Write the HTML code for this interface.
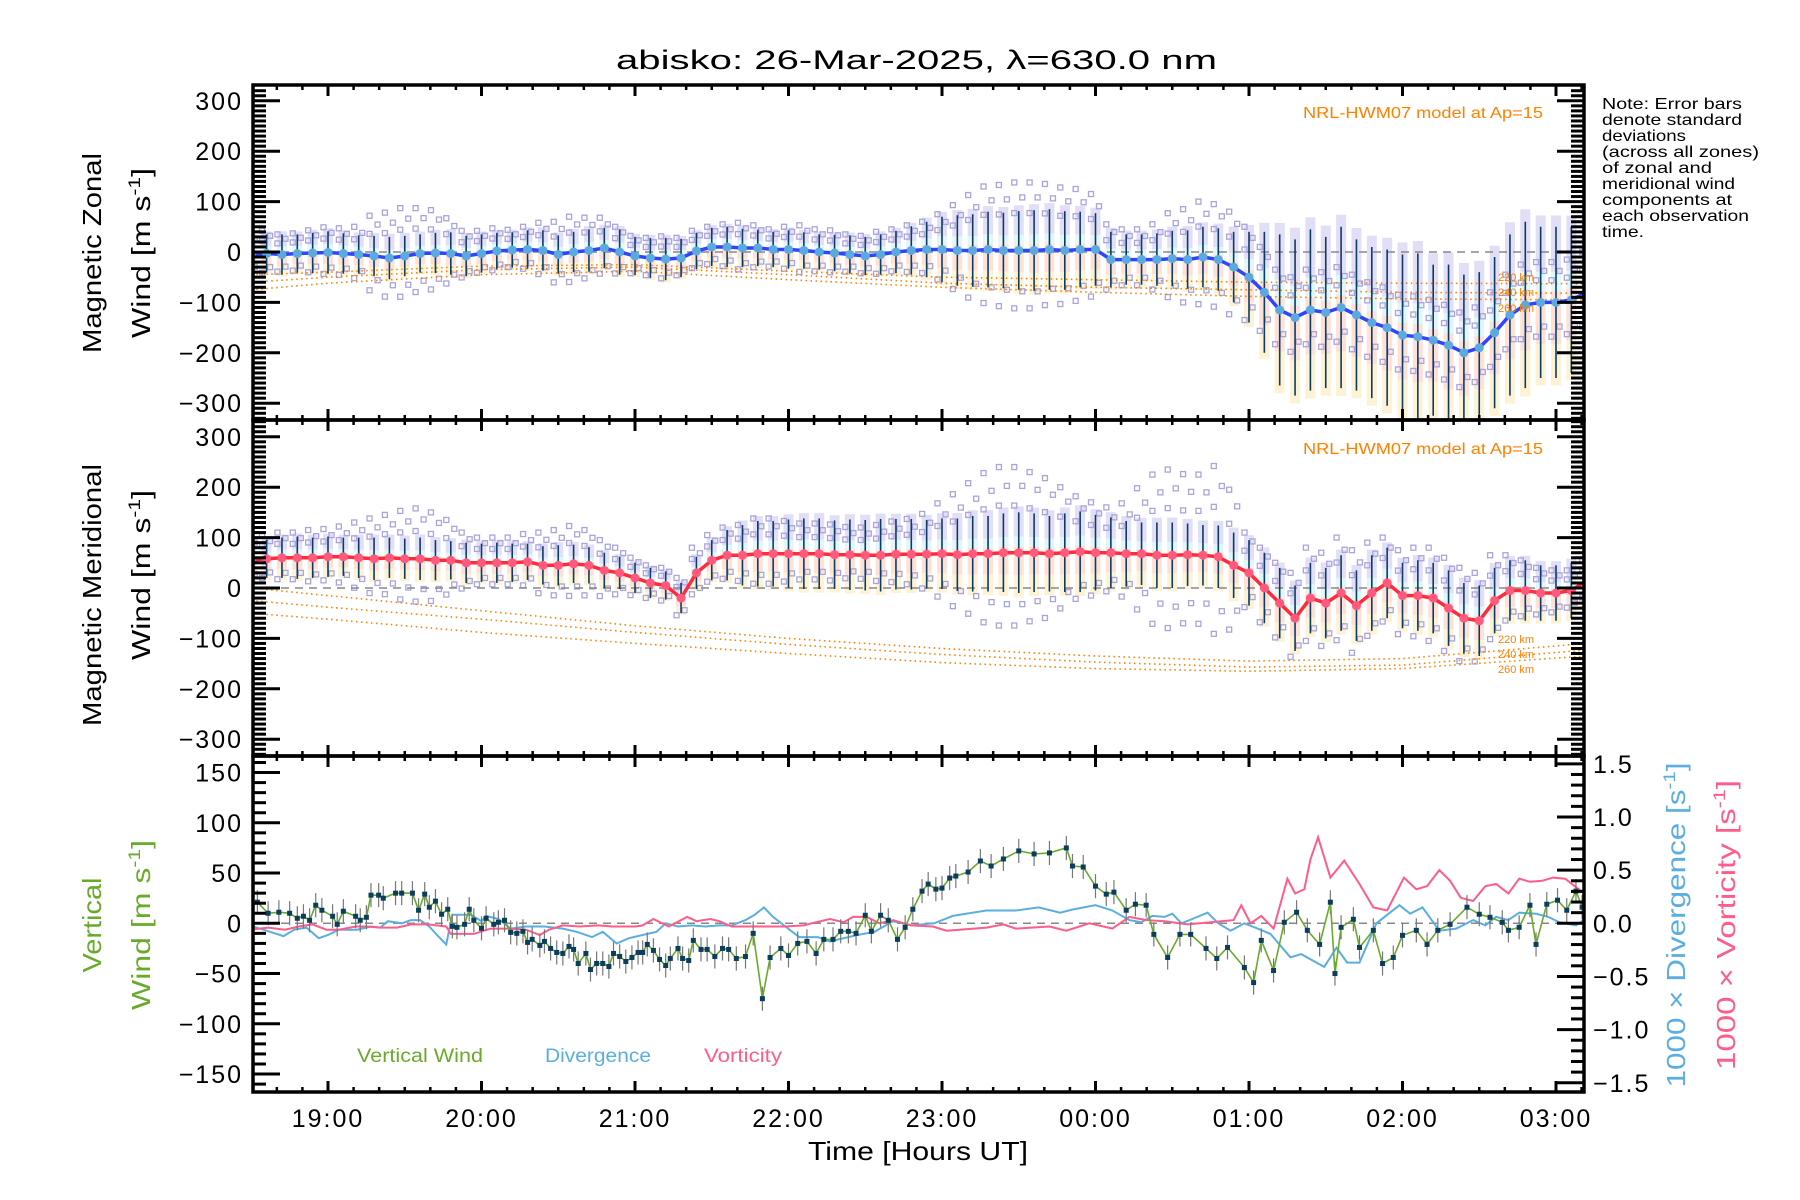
<!DOCTYPE html>
<html><head><meta charset="utf-8"><title>abisko winds</title>
<style>
html,body{margin:0;padding:0;background:#fff;}
svg{display:block;font-family:"Liberation Sans",sans-serif;}
.tk{font-size:25px;letter-spacing:2px;fill:#000;}
</style></head>
<body>
<svg id="chart" xmlns="http://www.w3.org/2000/svg" width="1800" height="1200" viewBox="0 0 1800 1200">
<rect width="1800" height="1200" fill="#fff"/>
<defs>
<clipPath id="c1"><rect x="253" y="85" width="1331" height="335"/></clipPath>
<clipPath id="c2"><rect x="253" y="420" width="1331" height="336"/></clipPath>
<clipPath id="c3"><rect x="253" y="756" width="1331" height="336"/></clipPath>
</defs>
<text x="616" y="69" font-size="27" textLength="601" lengthAdjust="spacingAndGlyphs">abisko: 26-Mar-2025, λ=630.0 nm</text>
<g id="p1" clip-path="url(#c1)"></g>
<g id="p2" clip-path="url(#c2)"></g>
<g id="p3" clip-path="url(#c3)"></g>
<g id="axes"></g>
<g font-size="16" fill="#ff8000">
<text x="1543" y="118" text-anchor="end" textLength="240" lengthAdjust="spacingAndGlyphs">NRL-HWM07 model at Ap=15</text>
<text x="1543" y="454" text-anchor="end" textLength="240" lengthAdjust="spacingAndGlyphs">NRL-HWM07 model at Ap=15</text>
</g>
<g font-size="11" fill="#ff8000">
<text x="1498" y="281">220 km</text>
<text x="1498" y="296">240 km</text>
<text x="1498" y="312">260 km</text>
<text x="1498" y="643">220 km</text>
<text x="1498" y="658">240 km</text>
<text x="1498" y="673">260 km</text>
</g>
<g font-size="16" fill="#000">
<text x="1602" y="109" textLength="140" lengthAdjust="spacingAndGlyphs">Note: Error bars</text>
<text x="1602" y="125" textLength="140" lengthAdjust="spacingAndGlyphs">denote standard</text>
<text x="1602" y="141" textLength="84" lengthAdjust="spacingAndGlyphs">deviations</text>
<text x="1602" y="157" textLength="157" lengthAdjust="spacingAndGlyphs">(across all zones)</text>
<text x="1602" y="173" textLength="110" lengthAdjust="spacingAndGlyphs">of zonal and</text>
<text x="1602" y="189" textLength="133" lengthAdjust="spacingAndGlyphs">meridional wind</text>
<text x="1602" y="205" textLength="130" lengthAdjust="spacingAndGlyphs">components at</text>
<text x="1602" y="221" textLength="147" lengthAdjust="spacingAndGlyphs">each observation</text>
<text x="1602" y="237" textLength="42" lengthAdjust="spacingAndGlyphs">time.</text>
</g>
<g font-size="26">
<text transform="translate(101,253) rotate(-90)" text-anchor="middle" textLength="200" lengthAdjust="spacingAndGlyphs">Magnetic Zonal</text>
<text transform="translate(150,253) rotate(-90)" text-anchor="middle" textLength="170" lengthAdjust="spacingAndGlyphs">Wind [m s<tspan font-size="17" dy="-10">-1</tspan><tspan dy="10">]</tspan></text>
<text transform="translate(101,595) rotate(-90)" text-anchor="middle" textLength="262" lengthAdjust="spacingAndGlyphs">Magnetic Meridional</text>
<text transform="translate(150,575) rotate(-90)" text-anchor="middle" textLength="170" lengthAdjust="spacingAndGlyphs">Wind [m s<tspan font-size="17" dy="-10">-1</tspan><tspan dy="10">]</tspan></text>
<text transform="translate(101,925) rotate(-90)" text-anchor="middle" fill="#6aaa2a" textLength="95" lengthAdjust="spacingAndGlyphs">Vertical</text>
<text transform="translate(150,925) rotate(-90)" text-anchor="middle" fill="#6aaa2a" textLength="170" lengthAdjust="spacingAndGlyphs">Wind [m s<tspan font-size="17" dy="-10">-1</tspan><tspan dy="10">]</tspan></text>
<text transform="translate(1685,925) rotate(-90)" text-anchor="middle" fill="#5aaee0" textLength="325" lengthAdjust="spacingAndGlyphs">1000 × Divergence [s<tspan font-size="17" dy="-10">-1</tspan><tspan dy="10">]</tspan></text>
<text transform="translate(1735,925) rotate(-90)" text-anchor="middle" fill="#ff5c8a" textLength="290" lengthAdjust="spacingAndGlyphs">1000 × Vorticity [s<tspan font-size="17" dy="-10">-1</tspan><tspan dy="10">]</tspan></text>
<text x="918" y="1160" text-anchor="middle" textLength="220" lengthAdjust="spacingAndGlyphs">Time [Hours UT]</text>
</g>
<g font-size="19">
<text x="357" y="1062" fill="#6aaa2a" textLength="126" lengthAdjust="spacingAndGlyphs">Vertical Wind</text>
<text x="545" y="1062" fill="#5aaee0" textLength="106" lengthAdjust="spacingAndGlyphs">Divergence</text>
<text x="704" y="1062" fill="#ff5c8a" textLength="78" lengthAdjust="spacingAndGlyphs">Vorticity</text>
</g>
</svg>
<script>
// ---------- data ----------
const gridT = [18.5,18.6,18.7,18.8,18.9,19.0,19.1,19.2,19.3,19.4,19.5,19.6,19.7,19.8,19.9,20.0,20.1,20.2,20.3,20.4,20.5,20.6,20.7,20.8,20.9,21.0,21.1,21.2,21.3,21.4,21.5,21.6,21.7,21.8,21.9,22.0,22.1,22.2,22.3,22.4,22.5,22.6,22.7,22.8,22.9,23.0,23.1,23.2,23.3,23.4,23.5,23.6,23.7,23.8,23.9,24.0,24.1,24.2,24.3,24.4,24.5,24.6,24.7,24.8,24.9,25.0,25.1,25.2,25.3,25.4,25.5,25.6,25.7,25.8,25.9,26.0,26.1,26.2,26.3,26.4,26.5,26.6,26.7,26.8,26.9,27.0,27.1,27.2];
const zonalMean = [-5,-3,-5,-3,-2,-1,-3,-5,-8,-12,-8,-3,-2,-3,-8,-3,2,4,5,3,-5,0,3,8,0,-8,-12,-14,-12,2,10,10,8,8,5,5,3,0,-2,-5,-8,-5,0,3,5,5,3,3,5,3,3,3,5,3,5,5,-15,-15,-15,-15,-13,-15,-10,-15,-30,-50,-80,-115,-130,-115,-120,-110,-125,-140,-150,-165,-168,-175,-185,-200,-190,-160,-125,-105,-100,-100,-95,-80];
const zonalErr = [35,38,40,38,40,42,40,38,40,42,40,38,40,42,40,38,36,35,38,40,38,40,42,40,45,38,40,42,38,36,38,40,38,36,35,38,36,35,36,38,38,40,42,48,55,65,70,72,75,75,78,80,80,78,75,72,55,50,50,52,55,58,60,62,70,90,120,150,155,160,150,160,150,150,155,160,165,150,160,155,150,150,160,165,150,150,145,140];
const zonalSpread = [40,45,40,40,45,50,50,55,80,90,95,90,85,70,50,45,45,40,45,55,65,70,65,60,50,40,40,45,40,40,40,45,50,45,40,45,50,45,45,40,40,45,45,50,55,70,90,110,125,130,135,135,130,125,120,110,70,60,60,70,90,100,110,110,110,100,90,80,80,80,80,80,80,80,80,80,80,80,80,80,80,80,80,80,80,80,80,80];
const meridMean = [55,58,60,60,60,62,62,60,58,60,58,58,55,55,50,50,50,50,52,45,45,48,45,35,30,20,10,5,-20,30,55,65,65,68,68,68,68,68,66,66,65,65,67,67,67,68,66,68,68,70,70,70,68,70,72,70,70,68,68,65,65,66,65,62,45,30,0,-30,-60,-20,-30,-10,-35,-10,10,-15,-15,-20,-40,-60,-65,-25,-5,-5,-10,-10,-5,15];
const meridErr = [40,38,40,42,40,40,38,40,42,40,40,42,40,38,40,38,40,38,36,38,40,38,36,35,32,30,30,28,30,32,40,50,60,65,65,68,70,70,68,70,70,72,70,70,68,70,72,75,75,78,80,78,75,78,80,75,70,65,62,65,65,62,60,62,65,65,70,70,65,70,70,75,70,75,70,65,70,70,75,70,70,65,60,60,55,55,55,50];
const meridSpread = [45,45,50,50,55,55,60,70,80,85,95,100,95,80,60,50,50,50,55,65,70,75,70,60,50,40,35,35,40,50,50,55,60,70,70,65,60,60,60,55,55,60,65,70,80,100,120,140,160,170,170,160,150,130,110,100,90,100,130,160,170,160,160,180,150,80,80,80,90,100,100,110,110,100,90,90,95,100,100,100,95,90,70,60,50,45,40,40];
// HWM07 model curves
const modelT = [18.5,19,20,21,22,23,24,25,26,27.2];
const zonal220 = [-45,-40,-28,-25,-38,-50,-55,-60,-62,-63];
const zonal240 = [-60,-50,-35,-30,-45,-62,-70,-75,-80,-82];
const zonal260 = [-75,-62,-45,-38,-55,-70,-80,-88,-93,-95];
const merid220 = [0,-15,-45,-75,-100,-120,-135,-145,-140,-110];
const merid240 = [-25,-38,-62,-88,-112,-132,-147,-157,-153,-123];
const merid260 = [-50,-62,-88,-110,-130,-148,-160,-165,-160,-135];
// vertical wind
const vwT = [18.54,18.61,18.68,18.75,18.8,18.84,18.88,18.92,18.96,19.03,19.06,19.1,19.18,19.21,19.25,19.28,19.33,19.36,19.44,19.48,19.55,19.59,19.63,19.66,19.7,19.74,19.78,19.81,19.84,19.89,19.92,19.95,20.0,20.03,20.08,20.11,20.15,20.19,20.23,20.27,20.3,20.33,20.38,20.41,20.45,20.49,20.53,20.57,20.6,20.63,20.68,20.71,20.75,20.79,20.83,20.86,20.9,20.94,20.98,21.02,21.05,21.08,21.12,21.16,21.2,21.23,21.28,21.31,21.35,21.38,21.43,21.47,21.52,21.57,21.61,21.66,21.72,21.77,21.83,21.88,21.95,22.0,22.06,22.12,22.18,22.23,22.29,22.34,22.39,22.44,22.5,22.54,22.6,22.65,22.71,22.76,22.81,22.87,22.91,22.96,23.0,23.05,23.09,23.17,23.25,23.32,23.4,23.5,23.6,23.7,23.81,23.85,23.92,24.0,24.07,24.12,24.2,24.26,24.33,24.38,24.47,24.55,24.62,24.72,24.79,24.86,24.97,25.03,25.08,25.16,25.23,25.31,25.38,25.46,25.53,25.56,25.6,25.68,25.72,25.81,25.87,25.94,26.0,26.09,26.16,26.23,26.31,26.42,26.5,26.57,26.65,26.69,26.76,26.83,26.87,26.94,27.01,27.07,27.13,27.17];
const vwVal = [21,10,11,10,5,7,3,18,13,7,-1,12,7,3,6,28,28,25,30,30,30,13,29,16,22,9,14,-3,-4,-1,14,3,-5,5,-1,1,3,-9,-10,-8,-19,-16,-22,-18,-25,-29,-30,-23,-26,-40,-30,-46,-40,-40,-43,-30,-33,-38,-34,-29,-29,-21,-27,-36,-42,-35,-25,-35,-37,-17,-26,-26,-33,-25,-26,-35,-33,-10,-75,-34,-25,-32,-20,-18,-30,-16,-16,-8,-8,-10,8,-8,8,3,-16,-4,14,32,39,34,35,45,47,51,62,57,64,72,69,70,75,57,56,37,29,31,13,19,18,-11,-34,-11,-11,-25,-35,-24,-44,-59,-17,-47,1,11,-7,-21,21,-50,-4,4,-24,-7,-40,-34,-12,-7,-21,-7,-1,16,9,6,1,-7,-4,18,-21,19,23,13,32,16];
const divT = [18.49,18.58,18.71,18.78,18.86,18.94,19.0,19.07,19.19,19.28,19.34,19.39,19.48,19.54,19.6,19.66,19.71,19.77,19.81,19.86,19.93,20.0,20.03,20.11,20.19,20.29,20.41,20.53,20.62,20.72,20.79,20.88,20.96,21.05,21.14,21.2,21.28,21.37,21.46,21.55,21.63,21.72,21.78,21.84,21.9,21.98,22.07,22.19,22.27,22.36,22.45,22.56,22.68,22.8,22.95,23.07,23.29,23.48,23.63,23.77,23.85,24.0,24.11,24.22,24.3,24.37,24.45,24.5,24.56,24.63,24.73,24.8,24.88,24.97,25.04,25.14,25.27,25.34,25.49,25.57,25.64,25.72,25.83,25.98,26.05,26.13,26.24,26.35,26.46,26.54,26.61,26.69,26.76,26.87,26.95,27.02,27.13,27.18];
const divVal = [-0.02,-0.06,-0.12,-0.06,-0.04,-0.14,-0.11,-0.06,-0.06,-0.03,-0.04,0.02,0,0.03,0.03,-0.03,-0.11,-0.2,0.08,0.08,0.08,0.02,0.07,0.04,-0.05,-0.03,-0.03,-0.05,-0.08,-0.13,-0.08,-0.19,-0.14,-0.11,-0.08,0,-0.03,-0.02,-0.03,-0.02,-0.02,0.03,0.08,0.15,0.06,-0.03,-0.13,-0.13,-0.17,-0.14,-0.11,-0.08,0.02,-0.02,0,0.07,0.12,0.12,0.15,0.10,0.13,0.17,0.12,0.03,0.01,0.07,0.06,0.09,0,0.04,0.10,0,-0.07,0,-0.04,-0.10,-0.32,-0.29,-0.41,-0.23,-0.37,-0.37,0,0.17,0.09,0.15,-0.07,-0.05,0.03,-0.02,0.06,0.03,0.10,0.09,0.06,0.01,-0.02,0.03];
const vorT = [18.49,18.61,18.72,18.81,18.9,18.99,19.07,19.18,19.25,19.34,19.45,19.54,19.65,19.77,19.8,19.95,20.06,20.18,20.29,20.38,20.44,20.53,20.64,20.76,20.85,21.0,21.05,21.12,21.22,21.34,21.4,21.49,21.55,21.63,21.75,21.86,21.98,22.1,22.15,22.27,22.36,22.42,22.51,22.59,22.68,22.8,22.94,23.03,23.29,23.4,23.48,23.7,23.81,23.96,24.11,24.22,24.33,24.45,24.6,24.75,24.9,24.95,25.01,25.08,25.16,25.25,25.3,25.36,25.4,25.45,25.53,25.62,25.72,25.81,25.9,26.01,26.09,26.16,26.24,26.31,26.38,26.46,26.54,26.61,26.69,26.76,26.83,26.91,26.98,27.06,27.13,27.18];
const vorVal = [-0.06,-0.04,-0.06,-0.03,-0.01,-0.06,-0.06,-0.03,-0.03,-0.04,-0.04,-0.01,-0.01,-0.03,-0.1,-0.1,-0.05,-0.05,-0.06,-0.11,-0.06,-0.02,-0.03,-0.02,-0.03,-0.03,-0.02,0.04,-0.03,0.06,0.02,0.04,0.02,-0.03,-0.03,-0.03,-0.03,-0.02,0,0.04,0.01,0.06,0.06,0,0.03,-0.02,-0.03,-0.07,-0.04,-0.01,-0.05,-0.03,-0.07,0,-0.05,0.06,0.03,0.02,-0.01,0.01,0.03,0.17,0,0.07,-0.05,0.42,0.28,0.32,0.6,0.81,0.43,0.59,0.37,0.15,0.12,0.43,0.32,0.35,0.5,0.4,0.24,0.21,0.35,0.37,0.28,0.42,0.39,0.4,0.43,0.42,0.34,0.29];
const xTickLabels = ['19:00','20:00','21:00','22:00','23:00','00:00','01:00','02:00','03:00'];
const xTickHours = [19,20,21,22,23,24,25,26,27];
const windTicks = [300,200,100,0,-100,-200,-300];
const vertTicks = [150,100,50,0,-50,-100,-150];
const ratioTicks = [1.5,1.0,0.5,0.0,-0.5,-1.0,-1.5];

// ---------- scales ----------
const NS='http://www.w3.org/2000/svg';
const X0=253, X1=1584;
const xs = t => 328 + (t-19)*153.5;
const y1 = v => 252 - v*0.504;
const y2 = v => 588 - v*0.504;
const y3 = v => 923.3 - v*1.005;
const y3r = v => 923.3 - v*106.3;
function mk(tag, attrs, parent){const e=document.createElementNS(NS,tag);for(const k in attrs)e.setAttribute(k,attrs[k]);parent.appendChild(e);return e;}
const p1=document.getElementById('p1'),p2=document.getElementById('p2'),p3=document.getElementById('p3'),ax=document.getElementById('axes');

function windPanel(g, ys, mean, err, spread, mTs, lineCol, dotCol, name){
  for(let i=0;i<gridT.length;i++){
    const x=xs(gridT[i]), m=mean[i], e=err[i];
    const segs=[[m+1.15*e,m+0.4*e,'#c9c3ee'],[m+0.4*e,m+0.15*e,'#c8eef2'],[m+0.15*e,m-0.55*e,'#fcc6b4'],[m-0.55*e,m-1.1*e,'#fbe7b0']];
    for(const s of segs){
      const r=mk('rect',{x:x-5,y:ys(s[0]),width:10,height:Math.max(0,ys(s[1])-ys(s[0])),fill:s[2],opacity:0.55},g);
      
      
    }
  }
  const fr=[1,0.78,0.55,-0.6,-0.85];
  for(let i=0;i<gridT.length;i++){
    const x=xs(gridT[i]);
    fr.forEach((f,j)=>{
      const sq=mk('rect',{x:x-3+((j%2)?4:-4),y:ys(mean[i]+f*spread[i])-2.5,width:5,height:5,fill:'none',stroke:'#aaa4dc','stroke-width':1.3},g);
      
      
    });
  }
  mTs.forEach((arr,k)=>{
    const d=arr.map((v,i)=>(i?'L':'M')+xs(modelT[i]).toFixed(1)+','+ys(v).toFixed(1)).join('');
    const p=mk('path',{d:d,fill:'none',stroke:'#ff8000','stroke-width':1.6,'stroke-dasharray':'1.5,3.5'},g);
    
    
  });
  const z=mk('line',{x1:X0,x2:X1,y1:ys(0),y2:ys(0),stroke:'#888','stroke-width':1.5,'stroke-dasharray':'8,6'},g);
  
  
  for(let i=0;i<gridT.length;i++){
    const x=xs(gridT[i]);
    const l=mk('line',{x1:x,x2:x,y1:ys(mean[i]+err[i]),y2:ys(mean[i]-err[i]),stroke:'#0b3d62','stroke-width':1.6},g);
    
    
  }
  const d=mean.map((v,i)=>(i?'L':'M')+xs(gridT[i]).toFixed(1)+','+ys(v).toFixed(1)).join('');
  const ml=mk('path',{d:d,fill:'none',stroke:lineCol,'stroke-width':3.5},g);
  
  
  for(let i=0;i<gridT.length;i++){
    const c=mk('circle',{cx:xs(gridT[i]),cy:ys(mean[i]),r:4.5,fill:dotCol},g);
    
    
  }
}
windPanel(p1,y1,zonalMean,zonalErr,zonalSpread,[zonal220,zonal240,zonal260],'#2e45ff','#5aaae0','zonal');
windPanel(p2,y2,meridMean,meridErr,meridSpread,[merid220,merid240,merid260],'#ff2a3a','#ff5a7e','meridional');

(function(){
  const z=mk('line',{x1:X0,x2:X1,y1:y3(0),y2:y3(0),stroke:'#888','stroke-width':1.5,'stroke-dasharray':'8,6'},p3);
  
  
  const dv=divVal.map((v,i)=>(i?'L':'M')+xs(divT[i]).toFixed(1)+','+y3r(v).toFixed(1)).join('');
  const pd=mk('path',{d:dv,fill:'none',stroke:'#5aaee0','stroke-width':2},p3);
  
  
  const vr=vorVal.map((v,i)=>(i?'L':'M')+xs(vorT[i]).toFixed(1)+','+y3r(v).toFixed(1)).join('');
  const pv=mk('path',{d:vr,fill:'none',stroke:'#ff5c8a','stroke-width':2},p3);
  
  
  for(let i=0;i<vwT.length;i++){
    const x=xs(vwT[i]);
    const eb=mk('line',{x1:x,x2:x,y1:y3(vwVal[i]+12),y2:y3(vwVal[i]-12),stroke:'#777','stroke-width':1.2},p3);
    
    
  }
  const vd=vwVal.map((v,i)=>(i?'L':'M')+xs(vwT[i]).toFixed(1)+','+y3(v).toFixed(1)).join('');
  const pw=mk('path',{d:vd,fill:'none',stroke:'#6aaa2a','stroke-width':1.6},p3);
  
  
  for(let i=0;i<vwT.length;i++){
    const r=mk('rect',{x:xs(vwT[i])-2.5,y:y3(vwVal[i])-2.5,width:5,height:5,fill:'#0b3d5c'},p3);
    
    
  }
})();

function line(x1,y1_,x2,y2_,w,name){const l=mk('line',{x1:x1,y1:y1_,x2:x2,y2:y2_,stroke:'#000','stroke-width':w},ax);return l;}
const panels=[[85,420],[420,756],[756,1092]];
panels.forEach((p,k)=>{
  const fr=mk('rect',{x:X0,y:p[0],width:X1-X0,height:p[1]-p[0],fill:'none',stroke:'#000','stroke-width':3.5},ax);
  
  
  for(let m=0;m<=8.7*6+1;m++){
    const t=18.5+m/6; const x=xs(t); if(x<X0||x>X1) continue;
    const major=Math.abs(t-Math.round(t))<1e-6;
    const L=major?11:5;
    line(x,p[0],x,p[0]+L,major?3:2.5,'x-tick');
    line(x,p[1],x,p[1]-L,major?3:2.5,'x-tick');
  }
});
[[y1,85,420],[y2,420,756]].forEach(([ys,top,bot],k)=>{
  for(let v=-330;v<=330;v+=10){
    const y=ys(v); if(y<top+1||y>bot-1) continue;
    const major=v%100===0, L=major?27:13;
    line(X0,y,X0+L,y,3,'y-tick'); line(X1,y,X1-L,y,3,'y-tick');
  }
  windTicks.forEach(v=>{
    const t=mk('text',{x:243,y:ys(v)+9,'text-anchor':'end',class:'tk'},ax);t.textContent=v<0?'−'+(-v):String(v);
    
    
  });
});
for(let v=-160;v<=160;v+=10){
  const y=y3(v); if(y<757||y>1091) continue;
  const major=v%50===0; line(X0,y,X0+(major?27:13),y,3,'vertical-y-tick');
}
vertTicks.forEach(v=>{
  const t=mk('text',{x:243,y:y3(v)+9,'text-anchor':'end',class:'tk'},ax);t.textContent=v<0?'−'+(-v):String(v);
  
  
});
for(let i=-16;i<=16;i++){
  const v=i/10, y=y3r(v); if(y<757||y>1091) continue;
  const major=i%5===0; line(X1,y,X1-(major?27:13),y,3,'ratio-y-tick');
}
ratioTicks.forEach(v=>{
  const t=mk('text',{x:1593,y:y3r(v)+9,class:'tk'},ax);t.textContent=(v<0?'−':'')+Math.abs(v).toFixed(1);
  
  
});
xTickLabels.forEach((s,i)=>{
  const t=mk('text',{x:xs(xTickHours[i]),y:1127,'text-anchor':'middle',class:'tk'},ax);t.textContent=s;
  
  
});
</script>
</body></html>
